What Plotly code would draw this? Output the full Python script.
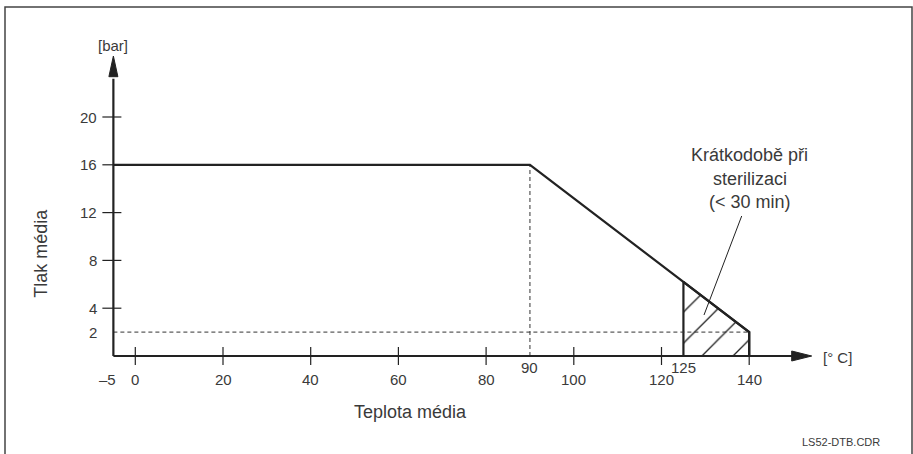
import plotly.graph_objects as go

# ---------------- data ----------------
curve_temp = [-5, 90, 140, 140]
curve_pressure = [16, 16, 2, 0]

steril_temp = [125, 125, 140, 140]
steril_pressure = [0, 6.2, 2, 0]

x_tick_values = [0, 20, 40, 60, 80, 100, 120, 140]
x_tick_labels = ["0", "20", "40", "60", "80", "100", "120", "140"]
x_special_values = [-5, 90, 125]
x_special_labels = ["–5", "90", "125"]

y_tick_values = [4, 8, 12, 16, 20]
y_tick_labels = ["4", "8", "12", "16", "20"]
y_special_values = [2]
y_special_labels = ["2"]

ref_temp = 90
ref_pressure = 2

x_axis_start = -5
note_lines = ["Krátkodobě při", "sterilizaci", "(< 30 min)"]

# ---------------- layout helpers ----------------
W, H = 913, 454
X0_PX, X_SCALE = 135.3, 4.385   # pixel of x=0, px per unit
Y0_PX, Y_SCALE = 356.0, 11.95   # pixel of y=0, px per unit


def dx(px):
    return (px - X0_PX) / X_SCALE


def dy(py):
    return (Y0_PX - py) / Y_SCALE


def wx(pxw):
    return pxw / X_SCALE


def wy(pyh):
    return pyh / Y_SCALE


INK = "#222222"
TXT = "#3a3a3a"
FONT = "Liberation Sans, Arial, Helvetica, sans-serif"

fig = go.Figure()

# hatched sterilisation area
fig.add_trace(go.Scatter(
    x=steril_temp, y=steril_pressure, mode="lines", fill="toself",
    fillcolor="white",
    fillpattern=dict(shape="/", size=22, solidity=0.06,
                     fgcolor=INK, bgcolor="white", fillmode="replace"),
    line=dict(color=INK, width=2.2), hoverinfo="skip", showlegend=False))

# dashed reference lines
fig.add_trace(go.Scatter(
    x=[x_axis_start, steril_temp[-1]], y=[ref_pressure, ref_pressure],
    mode="lines", line=dict(color="#333333", width=1, dash="4px,3px"),
    hoverinfo="skip", showlegend=False))
fig.add_trace(go.Scatter(
    x=[ref_temp, ref_temp], y=[0, curve_pressure[1]],
    mode="lines", line=dict(color="#333333", width=1, dash="4px,3px"),
    hoverinfo="skip", showlegend=False))

# main curve
fig.add_trace(go.Scatter(
    x=curve_temp, y=curve_pressure, mode="lines",
    line=dict(color=INK, width=2.2), hoverinfo="skip", showlegend=False))

# axes lines
x_tip = dx(811.7)
y_tip = dy(56)
x_arrow_base = dx(791.7)
y_arrow_base = dy(76.7)
fig.add_trace(go.Scatter(
    x=[x_axis_start, x_arrow_base + wx(2), None, x_axis_start, x_axis_start],
    y=[0, 0, None, 0, y_arrow_base - wy(2)],
    mode="lines", line=dict(color=INK, width=2.2),
    hoverinfo="skip", showlegend=False))

# tick marks
tx, ty = [], []
for v in x_tick_values:
    tx += [v, v, None]
    ty += [wy(9), -wy(9), None]
for v in y_tick_values:
    tx += [x_axis_start - wx(11), x_axis_start + wx(8), None]
    ty += [v, v, None]
fig.add_trace(go.Scatter(x=tx, y=ty, mode="lines",
                         line=dict(color=INK, width=1.2),
                         hoverinfo="skip", showlegend=False))

# leader line to the hatched area
fig.add_trace(go.Scatter(
    x=[dx(741.7), dx(704)], y=[dy(216), dy(315)], mode="lines",
    line=dict(color=INK, width=1), hoverinfo="skip", showlegend=False))

shapes = []
# arrow heads
shapes.append(dict(
    type="path", xref="x", yref="y",
    path=(f"M {x_arrow_base},{wy(5)} L {x_tip},0 L {x_arrow_base},{-wy(5)} Z"),
    fillcolor=INK, line=dict(color=INK, width=1)))
shapes.append(dict(
    type="path", xref="x", yref="y",
    path=(f"M {x_axis_start - wx(4.5)},{y_arrow_base} L {x_axis_start},{y_tip} "
          f"L {x_axis_start + wx(4.5)},{y_arrow_base} Z"),
    fillcolor=INK, line=dict(color=INK, width=1)))
# outer frame (open at bottom)
fl, fr, ft = 5 / W, 912 / W, 1 - 7 / H
shapes.append(dict(
    type="path", xref="paper", yref="paper",
    path=f"M {fl},0 L {fl},{ft} L {fr},{ft} L {fr},0",
    line=dict(color="#444444", width=1.5)))

annotations = []


def add_text(x, y, text, size=15, xanchor="center", yanchor="middle",
             angle=0, xshift=0):
    annotations.append(dict(
        x=x, y=y, xref="x", yref="y", text=text, showarrow=False,
        xanchor=xanchor, yanchor=yanchor, textangle=angle, xshift=xshift,
        font=dict(family=FONT, size=size, color=TXT)))


# x tick labels
for v, lab in zip(x_tick_values, x_tick_labels):
    add_text(v, dy(379), lab)
special_x_pos = {-5: (dy(379), -6), 90: (dy(367), 0), 125: (dy(367), 0)}
for v, lab in zip(x_special_values, x_special_labels):
    yy, sh = special_x_pos[v]
    add_text(v, yy, lab, xshift=sh)

# y tick labels
for v, lab in zip(y_tick_values + y_special_values,
                  y_tick_labels + y_special_labels):
    add_text(dx(98.5), v, lab, xanchor="right")

# units
add_text(x_axis_start, dy(45), "[bar]")
add_text(dx(837.5), dy(357), "[° C]")

# axis titles
add_text(dx(410), dy(411.7), "Teplota média", size=18)
add_text(dx(40.7), dy(253), "Tlak média", size=18, angle=-90)

# note
add_text(dx(689), dy(155), note_lines[0], size=18, xanchor="left")
add_text(dx(711), dy(179), note_lines[1], size=18, xanchor="left")
add_text(dx(707), dy(202), note_lines[2], size=18, xanchor="left")

# file tag
add_text(dx(882), dy(442), "LS52-DTB.CDR", size=11, xanchor="right")

fig.update_layout(
    width=W, height=H, autosize=False,
    margin=dict(l=0, r=0, t=0, b=0, pad=0),
    paper_bgcolor="white", plot_bgcolor="white",
    xaxis=dict(range=[dx(0), dx(W)], visible=False, fixedrange=True),
    yaxis=dict(range=[dy(H), dy(0)], visible=False, fixedrange=True),
    shapes=shapes, annotations=annotations, showlegend=False,
)

fig.write_html(
    "out.html",
    config={"displayModeBar": False},
    post_script="document.body.style.margin='0';document.body.style.overflow='hidden';",
)
